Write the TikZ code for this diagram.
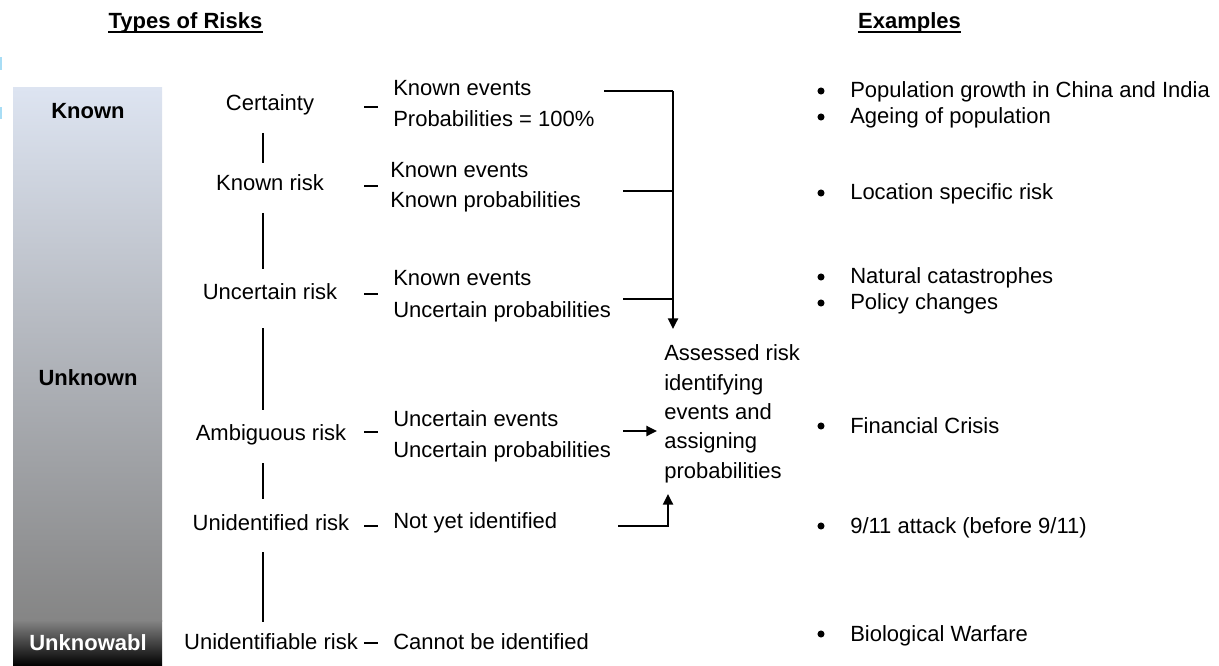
\documentclass[tikz,border=0pt]{standalone}
\usepackage{fontspec}
\setmainfont{Liberation Sans}
\usetikzlibrary{arrows.meta}
\definecolor{bartop}{HTML}{DDE4F1}
\definecolor{barmid}{HTML}{858585}
\definecolor{edgemark}{HTML}{A8DDF5}
\begin{document}
\begin{tikzpicture}[x=0.75pt,y=-0.75pt,
  txt/.style={inner sep=0pt, font=\fontsize{16.5}{22}\selectfont},
  lab/.style={txt, anchor=base},
  mid/.style={txt, anchor=base west},
  ex/.style={txt, anchor=base west},
  head/.style={inner sep=0pt, anchor=base, font=\bfseries\fontsize{16.5}{20}\selectfont},
  bartxt/.style={inner sep=0pt, anchor=base, font=\bfseries\fontsize{16.5}{20}\selectfont},
  ln/.style={line width=1.7pt},
  arr/.style={line width=1.7pt, -{Triangle[length=8pt,width=7.5pt]}},
  bul/.style={fill=black, circle, inner sep=0pt, minimum size=5.3pt},
]
\useasboundingbox (0,0) rectangle (1219,666);

% small marks at the left edge
\fill[fill=edgemark] (0,57) rectangle (2,70);
\fill[fill=edgemark] (0,107) rectangle (2,119);

% gradient bar
\shade[top color=bartop, bottom color=barmid] (13,88) rectangle (162,621);
\shade[top color=barmid, bottom color=black] (13,620) rectangle (162,666);
\node[bartxt] (bk) at (88,119) {Known};
\node[bartxt] (bu) at (88,385) {Unknown};
\node[bartxt, text=white] (bw) at (88,650) {Unknowabl};

% headings
\node[head] (h1) at (185.5,29) {Types of Risks};
\node[head] (h2) at (909.5,29) {Examples};
\draw[line width=1.5pt] ([yshift=-2.5pt]h1.base west) -- ([yshift=-2.5pt]h1.base east);
\draw[line width=1.5pt] ([yshift=-2.5pt]h2.base west) -- ([yshift=-2.5pt]h2.base east);

% risk types
\node[lab] (l1) at (270,111) {Certainty};
\node[lab] (l2) at (270,191) {Known risk};
\node[lab] (l3) at (270,300) {Uncertain risk};
\node[lab] (l4) at (271,440) {Ambiguous risk};
\node[lab] (l5) at (271,530) {Unidentified risk};
\node[lab] (l6) at (271,649) {Unidentifiable risk};

% vertical bars between types
\coordinate (v1a) at (263,133); \coordinate (v1b) at (263,163);
\coordinate (v2a) at (263,213); \coordinate (v2b) at (263,269);
\coordinate (v3a) at (263,328); \coordinate (v3b) at (263,410);
\coordinate (v4a) at (263,463); \coordinate (v4b) at (263,499);
\coordinate (v5a) at (263,552); \coordinate (v5b) at (263,622);
\draw[ln] (v1a) -- (v1b);
\draw[ln] (v2a) -- (v2b);
\draw[ln] (v3a) -- (v3b);
\draw[ln] (v4a) -- (v4b);
\draw[ln] (v5a) -- (v5b);

% dashes
\foreach \i/\y in {1/107,2/186,3/294,4/432,5/526,6/643}{
  \coordinate (d\i a) at (364,\y); \coordinate (d\i b) at (378,\y);
  \draw[ln] (d\i a) -- (d\i b);
}

% descriptions
\node[mid] (m1a) at (393,96) {Known events};
\node[mid] (m1b) at (393,127) {Probabilities = 100\%};
\node[mid] (m2a) at (390,178) {Known events};
\node[mid] (m2b) at (390,208) {Known probabilities};
\node[mid] (m3a) at (393,286) {Known events};
\node[mid] (m3b) at (393,317) {Uncertain probabilities};
\node[mid] (m4a) at (393,426) {Uncertain events};
\node[mid] (m4b) at (393,457) {Uncertain probabilities};
\node[mid] (m5) at (393,528) {Not yet identified};
\node[mid] (m6) at (393,649) {Cannot be identified};

% assessed risk (base = last line)
\node[txt, anchor=base west, align=left] (A) at (664,478)
  {Assessed risk\\identifying\\events and\\assigning\\probabilities};

% connectors to assessed risk
\coordinate (c1) at (604,91);
\coordinate (c2) at (623,191);
\coordinate (c3) at (623,299);
\coordinate (j1) at (673,91);
\coordinate (t1) at (673,329);
\coordinate (c4) at (623,431);
\coordinate (t4) at (657,431);
\coordinate (c5) at (618,526);
\coordinate (j5) at (668,526);
\coordinate (t5) at (668,494);
\draw[ln] (c1) -- (j1);
\draw[ln] (c2) -- (c2 -| j1);
\draw[ln] (c3) -- (c3 -| j1);
\draw[arr] (j1) -- (t1);
\draw[arr] (c4) -- (t4);
\draw[arr] (c5) -- (j5) -- (t5);

% examples
\foreach \n/\y/\t in {1/98/{Population growth in China and India},
                      2/124/{Ageing of population},
                      3/200/{Location specific risk},
                      4/284/{Natural catastrophes},
                      5/310/{Policy changes},
                      6/433/{Financial Crisis},
                      7/533/{9/11 attack (before 9/11)},
                      8/641/{Biological Warfare}}{
  \node[bul] (b\n) at (821,\y-7) {};
  \node[ex] (e\n) at (850,\y) {\t};
}
\end{tikzpicture}
\end{document}
